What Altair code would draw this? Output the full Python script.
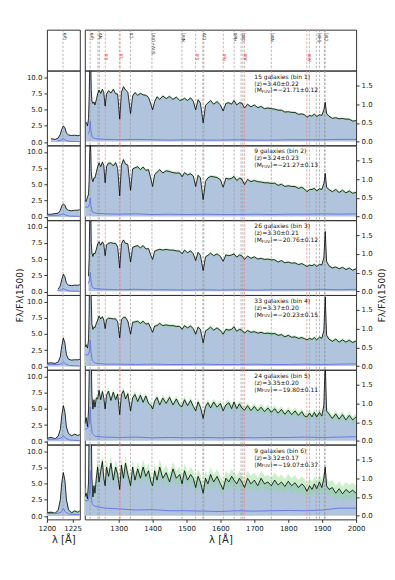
import altair as alt
import pandas as pd

# ---------------- data ----------------
WL = [1200, 1204, 1208, 1211, 1213, 1214.5, 1216, 1217.5, 1219, 1221,
      1224, 1227, 1230, 1234, 1238, 1242, 1247, 1252, 1256, 1260,
      1264, 1270, 1277, 1284, 1291, 1297, 1303, 1308, 1314, 1320,
      1327, 1335, 1341, 1348, 1356, 1364, 1372, 1380, 1388, 1395,
      1400, 1406, 1413, 1421, 1430, 1440, 1450, 1460, 1470, 1480,
      1487, 1494, 1503, 1512, 1520, 1527, 1534, 1541, 1549, 1556,
      1563, 1571, 1580, 1590, 1600, 1608, 1616, 1625, 1633, 1640,
      1648, 1656, 1663, 1671, 1680, 1690, 1700, 1710, 1720, 1730,
      1740, 1750, 1760, 1770, 1780, 1790, 1800, 1810, 1820, 1830,
      1840, 1848, 1855, 1863, 1870, 1877, 1884, 1892, 1899, 1905,
      1909, 1913, 1920, 1930, 1940, 1950, 1960, 1970, 1980, 1990, 2000]

FLUX_BIN1 = [None, 0.52, 0.42, 0.62, 1.2, 2.0, 2.5, 2.2, 1.4, 1.08,
             1.02, 1.06, 0.98, 1.12, 1.28, 1.38, 1.29, 1.4, 1.31, 0.95,
             1.27, 1.36, 1.3, 1.4, 1.28, 1.27, 0.6, 1.32, 1.47, 1.38,
             1.32, 0.75, 1.22, 1.31, 1.24, 1.29, 1.25, 1.24, 1.18, 1.0,
             0.85, 1.07, 1.2, 1.13, 1.22, 1.15, 1.21, 1.13, 1.19, 1.1,
             1.12, 1.16, 1.1, 1.17, 1.08, 0.85, 1.12, 1.03, 0.5, 0.97,
             1.03, 1.1, 1.0, 1.07, 0.98, 0.82, 1.02, 1.04, 1.0, 1.1,
             0.98, 1.04, 1.03, 0.9, 1.0, 0.93, 0.98, 0.91, 0.94, 0.88,
             0.9, 0.88, 0.87, 0.84, 0.84, 0.79, 0.8, 0.78, 0.78, 0.73,
             0.74, 0.72, 0.65, 0.7, 0.68, 0.74, 0.67, 0.72, 0.7, 0.85,
             1.05, 0.75, 0.68, 0.62, 0.64, 0.61, 0.62, 0.6, 0.6, 0.55, 0.56]
FLUX_BIN2 = [0.42, 0.4, 0.52, 0.58, 1.0, 1.7, 2.0, 1.8, 1.2, 1.02,
             0.93, 1.03, 1.03, 1.18, 1.33, 1.43, 1.33, 1.45, 1.36, 0.9,
             1.33, 1.43, 1.42, 1.35, 1.44, 1.28, 0.55, 1.37, 1.52, 1.4,
             1.37, 0.7, 1.27, 1.3, 1.33, 1.25, 1.32, 1.23, 1.25, 1.0,
             0.8, 1.12, 1.18, 1.25, 1.16, 1.22, 1.2, 1.17, 1.16, 1.16,
             1.06, 1.17, 1.11, 1.14, 1.08, 0.8, 1.1, 1.03, 0.45, 0.94,
             1.03, 1.07, 1.06, 1.04, 0.98, 0.78, 1.02, 1.0, 1.02, 1.07,
             0.96, 1.02, 1.0, 0.85, 0.99, 0.93, 0.96, 0.93, 0.92, 0.9,
             0.9, 0.88, 0.89, 0.83, 0.86, 0.8, 0.82, 0.8, 0.8, 0.75,
             0.78, 0.73, 0.66, 0.72, 0.72, 0.75, 0.68, 0.74, 0.72, 0.88,
             1.15, 0.78, 0.72, 0.66, 0.72, 0.64, 0.7, 0.63, 0.68, 0.62, 0.64]
FLUX_BIN3 = [None, None, None, 0.4, 0.9, 1.9, 2.7, 2.3, 1.3, 1.02,
             0.93, 1.02, 1.0, 1.12, 1.26, 1.32, 1.23, 1.32, 1.25, 0.95,
             1.24, 1.28, 1.3, 1.28, 1.28, 1.18, 0.62, 1.27, 1.37, 1.28,
             1.27, 0.78, 1.17, 1.2, 1.22, 1.16, 1.22, 1.13, 1.14, 0.95,
             0.85, 1.07, 1.1, 1.12, 1.1, 1.12, 1.1, 1.1, 1.08, 1.07,
             1.0, 1.1, 1.03, 1.08, 1.0, 0.82, 1.04, 0.96, 0.55, 0.92,
             0.96, 1.02, 0.95, 1.0, 0.93, 0.8, 0.97, 0.95, 0.97, 1.0,
             0.91, 0.97, 0.95, 0.85, 0.94, 0.88, 0.92, 0.86, 0.88, 0.85,
             0.86, 0.84, 0.84, 0.78, 0.82, 0.76, 0.78, 0.75, 0.76, 0.71,
             0.74, 0.7, 0.66, 0.7, 0.68, 0.72, 0.66, 0.72, 0.7, 0.9,
             1.6, 0.8, 0.68, 0.62, 0.65, 0.6, 0.64, 0.58, 0.62, 0.56, 0.6]
FLUX_BIN4 = [0.5, 0.57, 0.48, 0.7, 1.5, 3.2, 4.4, 3.6, 1.8, 1.12,
             0.98, 1.04, 1.03, 1.14, 1.23, 1.33, 1.26, 1.32, 1.23, 1.0,
             1.24, 1.28, 1.27, 1.26, 1.26, 1.18, 0.75, 1.24, 1.3, 1.3,
             1.2, 0.85, 1.17, 1.18, 1.2, 1.14, 1.2, 1.12, 1.14, 1.0,
             0.9, 1.07, 1.08, 1.14, 1.08, 1.1, 1.08, 1.08, 1.06, 1.06,
             0.98, 1.08, 1.02, 1.07, 1.0, 0.85, 1.04, 0.98, 0.62, 0.94,
             0.98, 1.04, 0.96, 1.02, 0.95, 0.85, 0.98, 0.96, 0.98, 1.05,
             0.93, 0.98, 0.96, 0.88, 0.95, 0.9, 0.92, 0.88, 0.9, 0.87,
             0.88, 0.86, 0.87, 0.82, 0.84, 0.78, 0.82, 0.77, 0.78, 0.74,
             0.76, 0.73, 0.7, 0.74, 0.71, 0.76, 0.7, 0.77, 0.74, 0.95,
             1.85, 0.82, 0.72, 0.66, 0.72, 0.64, 0.7, 0.64, 0.69, 0.63, 0.67]
FLUX_BIN5 = [0.45, 0.62, 0.38, 0.8, 1.8, 4.0, 5.5, 4.5, 2.2, 1.2,
             0.85, 1.1, 0.9, 1.15, 1.12, 1.35, 1.1, 1.32, 1.15, 0.85,
             1.22, 1.33, 1.08, 1.3, 1.1, 1.25, 0.7, 1.24, 1.34, 1.12,
             1.26, 0.8, 1.15, 1.24, 1.05, 1.22, 1.03, 1.2, 1.0, 0.95,
             0.85, 1.06, 1.16, 0.96, 1.14, 1.0, 1.16, 0.96, 1.12, 0.94,
             0.92, 1.1, 0.94, 1.08, 0.92, 0.8, 1.04, 0.9, 0.6, 0.92,
             1.02, 0.88, 1.04, 0.9, 1.0, 0.8, 0.96, 1.02, 0.86, 1.04,
             0.86, 0.99, 0.88, 0.82, 0.94, 0.81, 0.92, 0.8, 0.9, 0.78,
             0.88, 0.76, 0.86, 0.74, 0.84, 0.71, 0.82, 0.7, 0.8, 0.68,
             0.78, 0.66, 0.64, 0.74, 0.64, 0.76, 0.64, 0.76, 0.66, 0.95,
             2.1, 0.8, 0.72, 0.6, 0.72, 0.58, 0.7, 0.56, 0.68, 0.56, 0.64]
FLUX_BIN6 = [0.5, 0.6, 0.45, 0.9, 2.5, 5.2, 6.7, 5.5, 2.5, 1.0,
             0.5, 0.8, 0.6, 1.0, 1.3, 0.9, 1.2, 1.45, 1.0, 0.8,
             1.3, 1.05, 1.4, 0.95, 1.3, 1.1, 0.7, 1.35, 1.0, 1.4,
             1.1, 0.8, 1.3, 0.95, 1.25, 1.0, 1.3, 1.05, 1.2, 0.9,
             0.8, 1.2, 0.95, 1.3, 1.0, 1.15, 0.9, 1.25, 1.0, 1.1,
             0.85, 1.2, 0.95, 1.1, 1.0, 0.75, 1.05, 0.9, 0.6, 1.0,
             0.85, 1.1, 0.9, 1.05, 0.85, 0.7, 1.0, 0.9, 1.05, 0.95,
             0.85, 1.0, 0.9, 0.75, 1.0, 0.85, 0.95, 0.8, 1.0, 0.85,
             0.9, 0.8, 0.95, 0.82, 0.9, 0.78, 0.92, 0.8, 0.88, 0.75,
             0.85, 0.78, 0.65, 0.8, 0.7, 0.85, 0.72, 0.9, 0.75, 1.0,
             1.3, 0.8, 0.7, 0.75, 0.6, 0.72, 0.58, 0.7, 0.62, 0.68, 0.6]
FLUX = [FLUX_BIN1, FLUX_BIN2, FLUX_BIN3, FLUX_BIN4, FLUX_BIN5, FLUX_BIN6]

# spread (green band) half-width per bin
BAND = [0.03, 0.04, 0.03, 0.04, 0.09, 0.2]

ERR_WL = [1200, 1210, 1214, 1216, 1218, 1222, 1230, 1260, 1300, 1350, 1400, 1450,
          1500, 1550, 1600, 1650, 1700, 1750, 1800, 1850, 1900, 1950, 2000]
ERR_BIN1 = [None, 0.2, 0.3, 0.55, 0.3, 0.12, 0.08, 0.06, 0.05, 0.06, 0.05, 0.04,
            0.05, 0.04, 0.04, 0.05, 0.04, 0.04, 0.05, 0.05, 0.05, 0.06, 0.06]
ERR_BIN2 = [0.25, 0.25, 0.35, 0.5, 0.3, 0.12, 0.09, 0.07, 0.06, 0.07, 0.05, 0.06,
            0.05, 0.06, 0.05, 0.05, 0.06, 0.05, 0.06, 0.06, 0.07, 0.06, 0.07]
ERR_BIN3 = [None, 0.2, 0.3, 0.5, 0.3, 0.1, 0.07, 0.05, 0.04, 0.05, 0.04, 0.04,
            0.03, 0.04, 0.03, 0.04, 0.03, 0.04, 0.04, 0.04, 0.05, 0.04, 0.05]
ERR_BIN4 = [0.3, 0.3, 0.4, 0.7, 0.4, 0.15, 0.08, 0.05, 0.05, 0.04, 0.05, 0.04,
            0.04, 0.05, 0.04, 0.04, 0.05, 0.04, 0.04, 0.05, 0.04, 0.05, 0.06]
ERR_BIN5 = [0.3, 0.35, 0.5, 0.9, 0.5, 0.2, 0.12, 0.1, 0.09, 0.1, 0.08, 0.09,
            0.08, 0.09, 0.08, 0.09, 0.08, 0.09, 0.09, 0.1, 0.09, 0.1, 0.11]
ERR_BIN6 = [0.4, 0.4, 0.6, 1.2, 0.6, 0.3, 0.25, 0.2, 0.18, 0.15, 0.16, 0.13,
            0.13, 0.12, 0.11, 0.13, 0.12, 0.13, 0.14, 0.13, 0.15, 0.2, 0.2]
ERR = [ERR_BIN1, ERR_BIN2, ERR_BIN3, ERR_BIN4, ERR_BIN5, ERR_BIN6]

N_GAL = [15, 9, 26, 33, 24, 9]
Z_MEAN = [3.40, 3.24, 3.30, 3.37, 3.35, 3.32]
Z_ERR = [0.22, 0.23, 0.21, 0.20, 0.20, 0.17]
M_MEAN = [-21.71, -21.27, -20.76, -20.23, -19.80, -19.07]
M_ERR = [0.12, 0.13, 0.12, 0.15, 0.11, 0.37]

GREY_LINES = [1215.67, 1238.8, 1242.8, 1334.5, 1398.0, 1486.5, 1548.2, 1550.8,
              1640.4, 1660.8, 1666.1, 1750.0, 1882.7, 1892.0, 1906.7, 1908.7]
RED_LINES = [1260.4, 1302.2, 1304.4, 1526.7, 1608.5, 1670.8, 1854.7, 1862.8]
BLACK_LABELS = ["Lyα", "NV", "CII", "SiIV+OIV]", "NIV]", "CIV", "HeII", "OIII]",
                "NIII]", "SiIII]", "CIII]"]
BLACK_LABEL_WL = [1215.67, 1240.8, 1334.5, 1398.0, 1486.5, 1549.5, 1640.4, 1663.5,
                  1750.0, 1887.4, 1907.7]
RED_LABELS = ["SiII", "OI", "SiII", "FeII", "AlII", "AlIII"]
RED_LABEL_WL = [1260.4, 1303.3, 1526.7, 1608.5, 1670.8, 1858.7]

LEFT_TICKS = [1200, 1225]
RIGHT_TICKS = [1300, 1400, 1500, 1600, 1700, 1800, 1900, 2000]
LEFT_Y_TICKS = [0, 2.5, 5, 7.5, 10]
RIGHT_Y_TICKS = [0, 0.5, 1.0, 1.5]
LEFT_RANGE = [1200, 1232]
RIGHT_RANGE = [1200, 2000]

# ---------------- tables ----------------
spec_rows = []
for b in range(6):
    for w, f in zip(WL, FLUX[b]):
        if f is None:
            continue
        spec_rows.append({"bin": b + 1, "wl": w, "flux": f,
                          "lo": f - BAND[b], "hi": f + BAND[b]})
spec = pd.DataFrame(spec_rows)

err_rows = []
for b in range(6):
    for w, e in zip(ERR_WL, ERR[b]):
        if e is None:
            continue
        err_rows.append({"bin": b + 1, "wl": w, "err": e})
err = pd.DataFrame(err_rows)

grey_df = pd.DataFrame({"wl": GREY_LINES})
red_df = pd.DataFrame({"wl": RED_LINES})
blab_df = pd.DataFrame({"wl": BLACK_LABEL_WL, "label": BLACK_LABELS})
rlab_df = pd.DataFrame({"wl": RED_LABEL_WL, "label": RED_LABELS})

ann = pd.DataFrame({
    "bin": list(range(1, 7)),
    "t1": [f"{n} galaxies (bin {i+1})" for i, n in enumerate(N_GAL)],
    "t2": [f"⟨z⟩={z:.2f}±{e:.2f}" for z, e in zip(Z_MEAN, Z_ERR)],
    "t3a": ["⟨M"] * 6,
    "t3b": ["FUV"] * 6,
    "t3c": [f"⟩={m:.2f}±{e:.2f}".replace("-", "−") for m, e in zip(M_MEAN, M_ERR)],
})

W_L, W_R, H_ROW, H_HEAD = 33, 272, 75, 41
FONT = "DejaVu Sans"
FILL = "#b0c4de"
GREY = "#9a9a9a"
RED = "#e58a8a"


def xscale(left):
    return alt.Scale(domain=LEFT_RANGE if left else RIGHT_RANGE, nice=False, zero=False)


def in_range(df, left):
    lo, hi = LEFT_RANGE if left else RIGHT_RANGE
    return df[(df["wl"] >= lo) & (df["wl"] <= hi)]


def rules(x, left):
    g = alt.Chart(in_range(grey_df, left)).mark_rule(
        color=GREY, strokeDash=[2.5, 1.5], strokeWidth=0.7, clip=True).encode(x=x)
    r = alt.Chart(in_range(red_df, left)).mark_rule(
        color=RED, strokeDash=[2.5, 1.5], strokeWidth=0.7, clip=True).encode(x=x)
    return g, r


def header(left):
    x = alt.X("wl:Q", scale=xscale(left), axis=None)
    g, r = rules(x, left)
    bl = alt.Chart(in_range(blab_df, left)).mark_text(
        angle=270, align="right", baseline="middle", dy=2, fontSize=4.5,
        color="#222", font=FONT).encode(x=x, y=alt.value(3), text="label:N")
    layers = [g, r, bl]
    if not left:
        rl = alt.Chart(rlab_df).mark_text(
            angle=270, align="right", baseline="middle", dy=2, fontSize=4.5,
            color="#d62728", font=FONT).encode(x=x, y=alt.value(24), text="label:N")
        layers.append(rl)
    return alt.layer(*layers).properties(width=W_L if left else W_R, height=H_HEAD)


def panel(b, left):
    bottom = b == 5
    ys = alt.Scale(domain=[-0.5, 11] if left else [-0.1, 1.9], nice=False, zero=False)
    if bottom:
        xaxis = alt.Axis(values=LEFT_TICKS if left else RIGHT_TICKS, format="d",
                         title="λ [Å]", titleFontSize=10, labelFlush=False,
                         labelPadding=2, titlePadding=3, tickSize=3)
    else:
        xaxis = None
    ykw = dict(values=LEFT_Y_TICKS if left else RIGHT_Y_TICKS, format=".1f",
               orient="left" if left else "right", labelPadding=2, tickSize=3)
    if b == 2:
        ykw.update(title="Fλ/Fλ(1500)", titleY=H_ROW, titleX=-27 if left else 25,
                   titleAngle=270, titleAlign="center", titleBaseline="middle",
                   titleFontSize=9)
    else:
        ykw["title"] = None
    yaxis = alt.Axis(**ykw)
    x = alt.X("wl:Q", scale=xscale(left), axis=xaxis)

    sd = spec[spec["bin"] == b + 1]
    ed = err[err["bin"] == b + 1]
    base = alt.Chart(sd)
    area = base.mark_area(color=FILL, clip=True).encode(
        x=x, y=alt.Y("flux:Q", scale=ys, axis=yaxis), y2=alt.datum(0))
    band = base.mark_area(color="#8fdc8f", opacity=0.45, clip=True).encode(
        x=x, y=alt.Y("lo:Q", scale=ys, axis=yaxis), y2="hi:Q")
    g, r = rules(x, left)
    line = base.mark_line(color="black", strokeWidth=0.8, clip=True).encode(
        x=x, y=alt.Y("flux:Q", scale=ys, axis=yaxis))
    eline = alt.Chart(ed).mark_line(color="#6b78e6", strokeWidth=1, clip=True).encode(
        x=x, y=alt.Y("err:Q", scale=ys, axis=yaxis))
    layers = [area, band, g, r, line, eline]
    if not left:
        ad = ann[ann["bin"] == b + 1]
        a = alt.Chart(ad)
        t1 = a.mark_text(align="left", baseline="middle", fontSize=6, font=FONT, color="#111"
                         ).encode(x=alt.value(170), y=alt.value(6), text="t1:N")
        t2 = a.mark_text(align="left", baseline="middle", fontSize=6, font=FONT, color="#111"
                         ).encode(x=alt.value(170), y=alt.value(13), text="t2:N")
        t3a = a.mark_text(align="left", baseline="middle", fontSize=6, font=FONT, color="#111"
                          ).encode(x=alt.value(170), y=alt.value(20), text="t3a:N")
        t3b = a.mark_text(align="left", baseline="middle", fontSize=4.2, font=FONT, color="#111"
                          ).encode(x=alt.value(177.5), y=alt.value(21.5), text="t3b:N")
        t3c = a.mark_text(align="left", baseline="middle", fontSize=6, font=FONT, color="#111"
                          ).encode(x=alt.value(186), y=alt.value(20), text="t3c:N")
        layers += [t1, t2, t3a, t3b, t3c]
    return alt.layer(*layers).properties(width=W_L if left else W_R, height=H_ROW)


cells = [header(True), header(False)]
for b in range(6):
    cells += [panel(b, True), panel(b, False)]

chart = alt.concat(*cells, columns=2, spacing={"row": 0, "column": 5},
                   bounds="flush").properties(
    padding={"left": 7, "top": 20, "right": 0, "bottom": 5}
).configure_view(
    stroke="#333", strokeWidth=1
).configure_axis(
    labelFont=FONT, titleFont=FONT, labelColor="#222", titleColor="#222",
    tickColor="#333", grid=False, domain=False, labelFontSize=7,
    titleFontWeight="normal"
).configure_text(font=FONT)

chart.save("out.html", embed_options={"renderer": "svg", "actions": False})
